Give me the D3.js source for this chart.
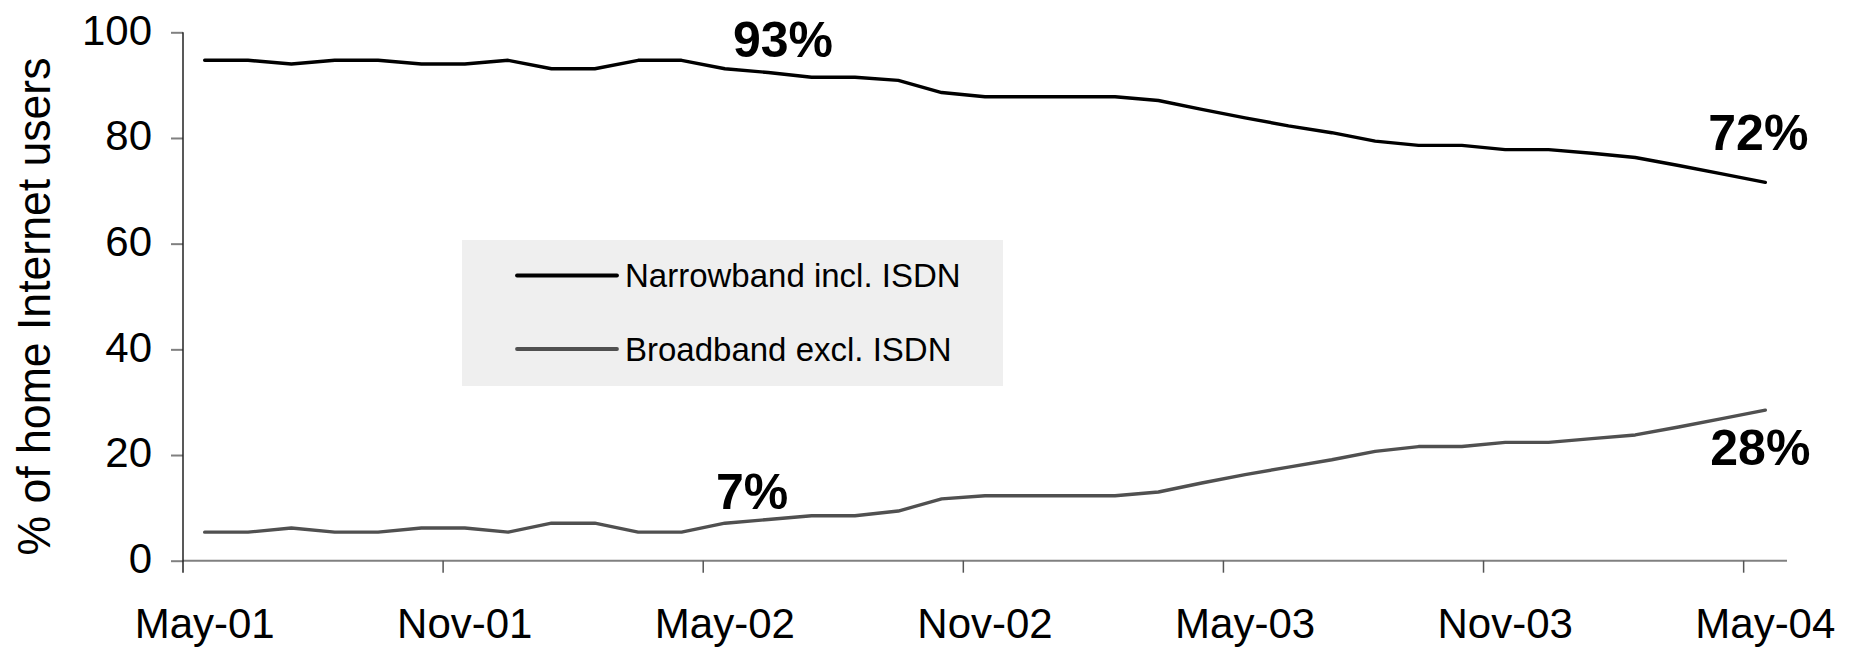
<!DOCTYPE html>
<html>
<head>
<meta charset="utf-8">
<script src="https://cdn.jsdelivr.net/npm/d3@7"></script>
<style>
  body { margin: 0; background: #fff; }
  svg { display: block; font-family: Arial, "Liberation Sans", sans-serif; }
</style>
</head>
<body>
<svg id="chart"></svg>
<script>
// months, May-01 .. May-04
const months = [
  "May-01","Jun-01","Jul-01","Aug-01","Sep-01","Oct-01","Nov-01","Dec-01",
  "Jan-02","Feb-02","Mar-02","Apr-02","May-02","Jun-02","Jul-02","Aug-02",
  "Sep-02","Oct-02","Nov-02","Dec-02","Jan-03","Feb-03","Mar-03","Apr-03",
  "May-03","Jun-03","Jul-03","Aug-03","Sep-03","Oct-03","Nov-03","Dec-03",
  "Jan-04","Feb-04","Mar-04","Apr-04","May-04"
];

const tickMonths = ["May-01","Nov-01","May-02","Nov-02","May-03","Nov-03","May-04"];
const yTicks = [0, 20, 40, 60, 80, 100];

// % of home Internet users
const narrowband = [
  94.7, 94.7, 94.0, 94.7, 94.7, 94.0, 94.0, 94.7, 93.1, 93.1, 94.7, 94.7,
  93.1, 92.4, 91.5, 91.5, 90.9, 88.6, 87.8, 87.8, 87.8, 87.8, 87.1, 85.4,
  83.8, 82.3, 81.0, 79.4, 78.6, 78.6, 77.8, 77.8, 77.1, 76.3, 74.8, 73.2, 71.6
];
const broadband = [
  5.4, 5.4, 6.2, 5.4, 5.4, 6.2, 6.2, 5.4, 7.1, 7.1, 5.4, 5.4,
  7.1, 7.8, 8.5, 8.5, 9.4, 11.7, 12.3, 12.3, 12.3, 12.3, 13.0, 14.7,
  16.3, 17.7, 19.1, 20.7, 21.6, 21.6, 22.4, 22.4, 23.1, 23.8, 25.3, 26.9, 28.5
];

const seriesNames = ["Narrowband incl. ISDN", "Broadband excl. ISDN"];
const seriesColors = ["#000000", "#505050"];

// callouts: text, series index, month
const callouts = [
  { text: "93%", s: 0, month: "May-02" },
  { text: "7%",  s: 1, month: "May-02" },
  { text: "72%", s: 0, month: "May-04" },
  { text: "28%", s: 1, month: "May-04" }
];
const calloutOffset = [[8, -11.5], [-9, -14], [-57, -32.5], [-55, 54.5]];

const W = 1858, H = 648;
const svg = d3.select("#chart").attr("width", W).attr("height", H);

const x = d3.scaleBand().domain(months).range([183, 1787]);
const y = d3.scaleLinear().domain([0, 100]).range([560.7, 32.3]);
const xc = m => x(m) + x.bandwidth() / 2;

const series = [narrowband, broadband];

// y axis
const yAxis = svg.append("g")
  .attr("transform", `translate(${x.range()[0]},0)`)
  .call(d3.axisLeft(y).tickValues(yTicks).tickSize(12).tickSizeOuter(0).tickPadding(19));
yAxis.select(".domain").remove();
yAxis.selectAll(".tick line").attr("stroke", "#808080").attr("stroke-width", 2);
yAxis.selectAll(".tick text")
  .attr("font-size", 42).attr("fill", "#000").attr("dy", "0.28em")
  .style("font-family", "Arial, 'Liberation Sans', sans-serif");

// x axis line
svg.append("line")
  .attr("x1", x.range()[0]).attr("x2", x.range()[1])
  .attr("y1", y(0)).attr("y2", y(0))
  .attr("stroke", "#808080").attr("stroke-width", 2);

// y axis line, runs down past the x axis like the first tick
svg.append("line")
  .attr("x1", x.range()[0]).attr("x2", x.range()[0])
  .attr("y1", y(100)).attr("y2", y(0) + 12)
  .attr("stroke", "#222").attr("stroke-width", 1.5);

// x tick marks sit between categories
svg.append("g").selectAll("line")
  .data(tickMonths.slice(1))
  .join("line")
  .attr("x1", d => x(d)).attr("x2", d => x(d))
  .attr("y1", y(0)).attr("y2", y(0) + 12)
  .attr("stroke", "#555").attr("stroke-width", 1.5);

// x labels centred on the month
const xAxis = svg.append("g")
  .attr("transform", `translate(0,${y(0)})`)
  .call(d3.axisBottom(x).tickValues(tickMonths).tickSize(0).tickPadding(47));
xAxis.select(".domain").remove();
xAxis.selectAll(".tick text")
  .attr("font-size", 42).attr("fill", "#000")
  .style("font-family", "Arial, 'Liberation Sans', sans-serif");

// y title
svg.append("text")
  .attr("transform", `translate(50,${(y(100) + y(0)) / 2 + 10}) rotate(-90)`)
  .attr("text-anchor", "middle")
  .attr("font-size", 46)
  .attr("textLength", 498)
  .attr("lengthAdjust", "spacingAndGlyphs")
  .text("% of home Internet users");

// lines
const line = d3.line()
  .x((d, i) => xc(months[i]))
  .y(d => y(d));

series.forEach((vals, k) => {
  svg.append("path")
    .datum(vals)
    .attr("fill", "none")
    .attr("stroke", seriesColors[k])
    .attr("stroke-width", 3.4)
    .attr("stroke-linejoin", "round")
    .attr("stroke-linecap", "round")
    .attr("d", line);
});

// legend
const lg = svg.append("g").attr("transform", "translate(462,240)");
lg.append("rect").attr("width", 541).attr("height", 146).attr("fill", "#efefef");
seriesNames.forEach((name, k) => {
  const ly = 35.5 + k * 73.5;
  lg.append("line")
    .attr("x1", 55).attr("x2", 155).attr("y1", ly).attr("y2", ly)
    .attr("stroke", seriesColors[k]).attr("stroke-width", 3.8)
    .attr("stroke-linecap", "round");
  lg.append("text")
    .attr("x", 163).attr("y", ly + 11.5)
    .attr("font-size", 33)
    .attr("fill", "#000")
    .text(name);
});

// callouts
callouts.forEach((c, i) => {
  const v = series[c.s][months.indexOf(c.month)];
  svg.append("text")
    .attr("x", xc(c.month) + calloutOffset[i][0])
    .attr("y", y(v) + calloutOffset[i][1])
    .attr("font-size", 50)
    .attr("font-weight", "bold")
    .attr("fill", "#000")
    .text(c.text);
});
</script>
</body>
</html>
